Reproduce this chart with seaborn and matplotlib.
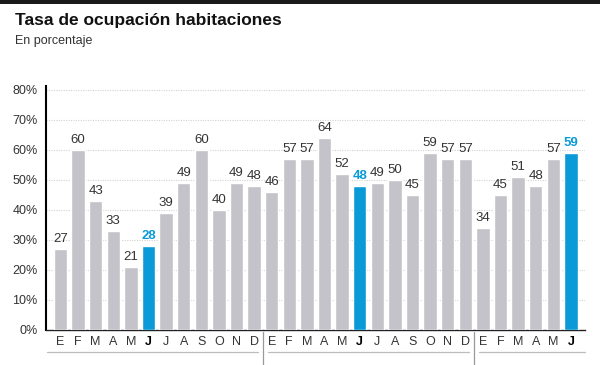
import matplotlib
matplotlib.use("Agg")
import matplotlib.pyplot as plt
import matplotlib.transforms as mtransforms
import seaborn as sns
import pandas as pd

# ---- data ----
months = ["E", "F", "M", "A", "M", "J", "J", "A", "S", "O", "N", "D",
          "E", "F", "M", "A", "M", "J", "J", "A", "S", "O", "N", "D",
          "E", "F", "M", "A", "M", "J"]
values = [27, 60, 43, 33, 21, 28, 39, 49, 60, 40, 49, 48,
          46, 57, 57, 64, 52, 48, 49, 50, 45, 59, 57, 57,
          34, 45, 51, 48, 57, 59]
highlight = [5, 17, 29]          # indices of the highlighted June bars
group_sizes = [12, 12, 6]        # months per year block
yticks = [0, 10, 20, 30, 40, 50, 60, 70, 80]

GRAY = "#c3c3c9"
BLUE = "#0a9ad8"

df = pd.DataFrame({
    "pos": list(range(len(values))),
    "value": values,
    "hl": ["yes" if i in highlight else "no" for i in range(len(values))],
})

sns.set_style("white")
plt.rcParams["font.family"] = ["Liberation Sans", "DejaVu Sans"]

fig = plt.figure(figsize=(6.0, 3.65), dpi=100)
ax = fig.add_axes([0.0767, 0.0959, 0.975 - 0.0767, 0.7644 - 0.0959])

sns.barplot(data=df, x="pos", y="value", hue="hl",
            palette={"no": GRAY, "yes": BLUE}, dodge=False,
            width=0.76, legend=False, ax=ax, zorder=3, saturation=1)

ax.set_xlim(-0.82, len(values) - 0.2)
ax.set_ylim(0, 81.3)

# grid
for t in yticks[1:]:
    ax.axhline(t, color="#d2d2d2", lw=0.8, ls=(0, (1, 1.2)), zorder=1)

ax.set_yticks(yticks)
ax.set_yticklabels([f"{t}%" for t in yticks], fontsize=9, color="#333333")
ax.tick_params(axis="y", length=0, pad=6)

ax.set_xticks(range(len(values)))
ax.set_xticklabels(months, fontsize=9, color="#333333")
ax.tick_params(axis="x", length=0, pad=4)
for i, lab in enumerate(ax.get_xticklabels()):
    if i in highlight:
        lab.set_fontweight("bold")
        lab.set_color("black")

ax.set_xlabel("")
ax.set_ylabel("")

for s in ["top", "right"]:
    ax.spines[s].set_visible(False)
ax.spines["left"].set_color("black")
ax.spines["left"].set_linewidth(1.5)
ax.spines["bottom"].set_color("#222222")
ax.spines["bottom"].set_linewidth(1.0)

# value labels
for i, v in enumerate(values):
    hl = i in highlight
    ax.text(i, v + 1.2, str(v), ha="center", va="bottom",
            fontsize=9.5, color=BLUE if hl else "#333333",
            fontweight="bold" if hl else "normal", zorder=4)

# year grouping lines
trans = mtransforms.blended_transform_factory(ax.transData, ax.transAxes)
start = -0.5
bounds = []
for g in group_sizes:
    bounds.append((start, start + g))
    start += g
for k, (a, b) in enumerate(bounds):
    x0 = -0.77 if k == 0 else a + 0.28
    x1 = (len(values) - 0.2) if k == len(bounds) - 1 else b - 0.28
    ax.plot([x0, x1], [-0.09, -0.09], transform=trans, color="#bdbdbd",
            lw=0.9, clip_on=False)
    if k < len(bounds) - 1:
        ax.plot([b, b], [-0.008, -0.15], transform=trans, color="#999999",
                lw=0.9, clip_on=False)

# title block
fig.text(15 / 600, 1 - 20 / 365, "Tasa de ocupación habitaciones",
         fontsize=12.5, fontweight="bold", color="#111111", va="center", ha="left")
fig.text(15 / 600, 1 - 41 / 365, "En porcentaje", fontsize=9,
         color="#333333", va="center", ha="left")
fig.add_artist(plt.Rectangle((0, 1 - 4 / 365), 1, 4 / 365,
                             transform=fig.transFigure, color="#1a1a1a", lw=0))

fig.savefig("out.png", dpi=100)
